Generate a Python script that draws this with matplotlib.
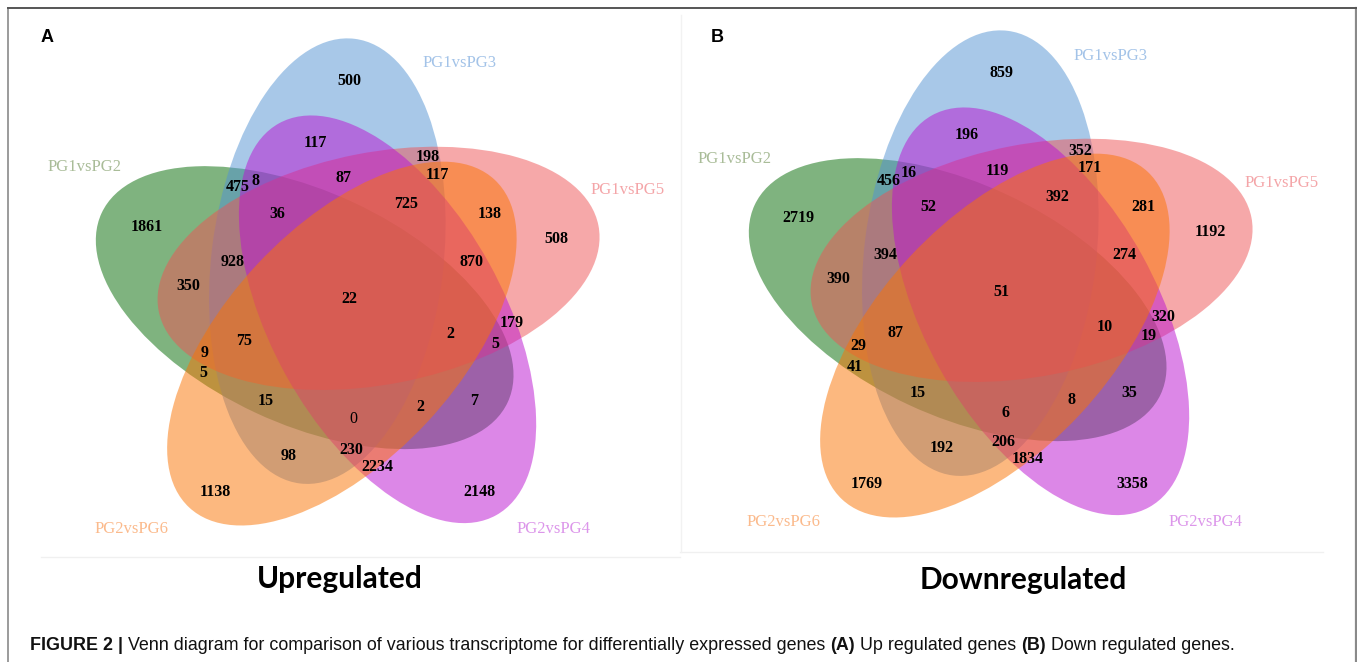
import numpy as np
import matplotlib.pyplot as plt
from matplotlib.patches import Ellipse

# five comparisons, listed in the rotational order of the petals
set_names = ['PG1vsPG3', 'PG1vsPG2', 'PG2vsPG6', 'PG2vsPG4', 'PG1vsPG5']
fill_cols = ['#5393D3', '#016900', '#FB7301', '#BB11D1', '#EF5355']
label_cols = ['#A3C3E8', '#A9BC98', '#FBBA8C', '#DC96EA', '#F4A5A8']
draw_order = [1, 0, 4, 3, 2]

# region counts (A: up regulated)
up_counts = [500, 117, 198, 117, 87, 475, 8, 725, 138, 36, 1861, 508, 928, 870,
             350, 22, 179, 2, 75, 5, 9, 5, 15, 2, 7, 0, 98, 230, 2234, 1138, 2148]
up_xy = [(349, 81), (315, 143), (428, 157), (437, 175), (343, 178), (238, 187),
         (255, 181), (406, 204), (490, 214), (277, 214), (147, 227), (556, 239),
         (233, 262), (472, 262), (188, 286), (349, 299), (512, 323), (450, 334),
         (244, 341), (495, 344), (205, 353), (203, 373), (266, 401), (420, 407),
         (474, 401), (353, 419), (289, 456), (351, 450), (377, 467), (215, 492),
         (479, 492)]

# region counts (B: down regulated)
down_counts = [859, 196, 352, 171, 119, 456, 16, 392, 52, 281, 2719, 1192, 394,
               274, 390, 51, 320, 10, 87, 19, 29, 41, 15, 35, 8, 6, 192, 206,
               1834, 1769, 3358]
down_xy = [(1002, 73), (967, 135), (1080, 151), (1090, 168), (997, 171),
           (889, 181), (909, 173), (1057, 197), (928, 207), (1143, 207),
           (798, 218), (1210, 232), (885, 255), (1124, 255), (838, 279),
           (1001, 292), (1163, 317), (1105, 327), (896, 333), (1149, 336),
           (858, 346), (855, 367), (918, 393), (1129, 393), (1072, 400),
           (1005, 413), (942, 448), (1003, 442), (1028, 459), (867, 484),
           (1132, 484)]

up_label_xy = [(460, 63), (85, 167), (132, 529), (554, 529), (628, 190)]
down_label_xy = [(1111, 56), (735, 159), (784, 522), (1206, 522), (1282, 183)]

W, H = 1357, 662
fig = plt.figure(figsize=(W / 100, H / 100), dpi=100)
ax = fig.add_axes([0, 0, 1, 1])
ax.set_xlim(0, W)
ax.set_ylim(H, 0)
ax.axis('off')

# ellipse geometry (pixels); petal k is petal 0 rotated by k*72 degrees
semi_a, semi_b, offset = 224, 116, 44


def draw_venn(cx, cy, counts, xy, label_xy):
    for k in draw_order:
        off_ang = np.deg2rad(118 + 72 * k)
        axis_ang = 83 + 72 * k
        ex = cx + offset * np.cos(off_ang)
        ey = cy - offset * np.sin(off_ang)
        ax.add_patch(Ellipse((ex, ey), 2 * semi_a, 2 * semi_b, angle=-axis_ang,
                             facecolor=fill_cols[k], edgecolor='none', alpha=0.5))
    for n, (x, y) in zip(counts, xy):
        ax.text(x, y, str(n), ha='center', va='center', fontsize=11.5,
                family='Liberation Serif',
                fontweight='normal' if n == 0 else 'bold', color='black')
    for k, (x, y) in enumerate(label_xy):
        ax.text(x, y, set_names[k], ha='center', va='center', fontsize=12,
                family='Liberation Serif', color=label_cols[k])


draw_venn(348, 300, up_counts, up_xy, up_label_xy)
draw_venn(1001, 292, down_counts, down_xy, down_label_xy)

# panel letters and titles
ax.text(47, 37, 'A', ha='center', va='center', fontsize=13, fontweight='bold',
        family='Liberation Sans')
ax.text(717, 37, 'B', ha='center', va='center', fontsize=13, fontweight='bold',
        family='Liberation Sans')
ax.text(340, 579, 'Upregulated', ha='center', va='center', fontsize=21.5,
        fontweight='bold', family='Lato')
ax.text(1023, 580, 'Downregulated', ha='center', va='center', fontsize=21.5,
        fontweight='bold', family='Lato')

# faint image borders
ax.plot([41, 680], [557, 557], color='#F0F0F0', lw=1)
ax.plot([680, 1323], [552, 552], color='#F0F0F0', lw=1)
ax.plot([681, 681], [15, 552], color='#F2F2F2', lw=1)

# outer frame
ax.plot([7.5, 7.5], [8, H], color='#8A8A8A', lw=1.2)
ax.plot([1355.5, 1355.5], [8, H], color='#8A8A8A', lw=1.6)
ax.plot([7.5, 1356], [8, 8], color='#555555', lw=1.4)

# caption with bold pieces, fitted to its width in the reference
caption = [('FIGURE 2 | ', 'bold'),
           ('Venn diagram for comparison of various transcriptome for differentially expressed genes ', 'normal'),
           ('(A)', 'bold'), (' Up regulated genes ', 'normal'),
           ('(B)', 'bold'), (' Down regulated genes.', 'normal')]
cap_x0, cap_x1, cap_y = 30, 1232, 645
fams = ['Liberation Sans Narrow', 'Liberation Sans']


def put_caption(size):
    rend = fig.canvas.get_renderer()
    x = cap_x0
    items = []
    for s, w in caption:
        t = ax.text(x, cap_y, s, ha='left', va='center', fontsize=size,
                    fontweight=w, family=fams, color='#111111')
        bb = t.get_window_extent(renderer=rend)
        x += bb.width
        items.append(t)
    return items, x - cap_x0


items, width = put_caption(11)
for t in items:
    t.remove()
put_caption(11 * (cap_x1 - cap_x0) / width)

fig.savefig('out.png', dpi=100)
